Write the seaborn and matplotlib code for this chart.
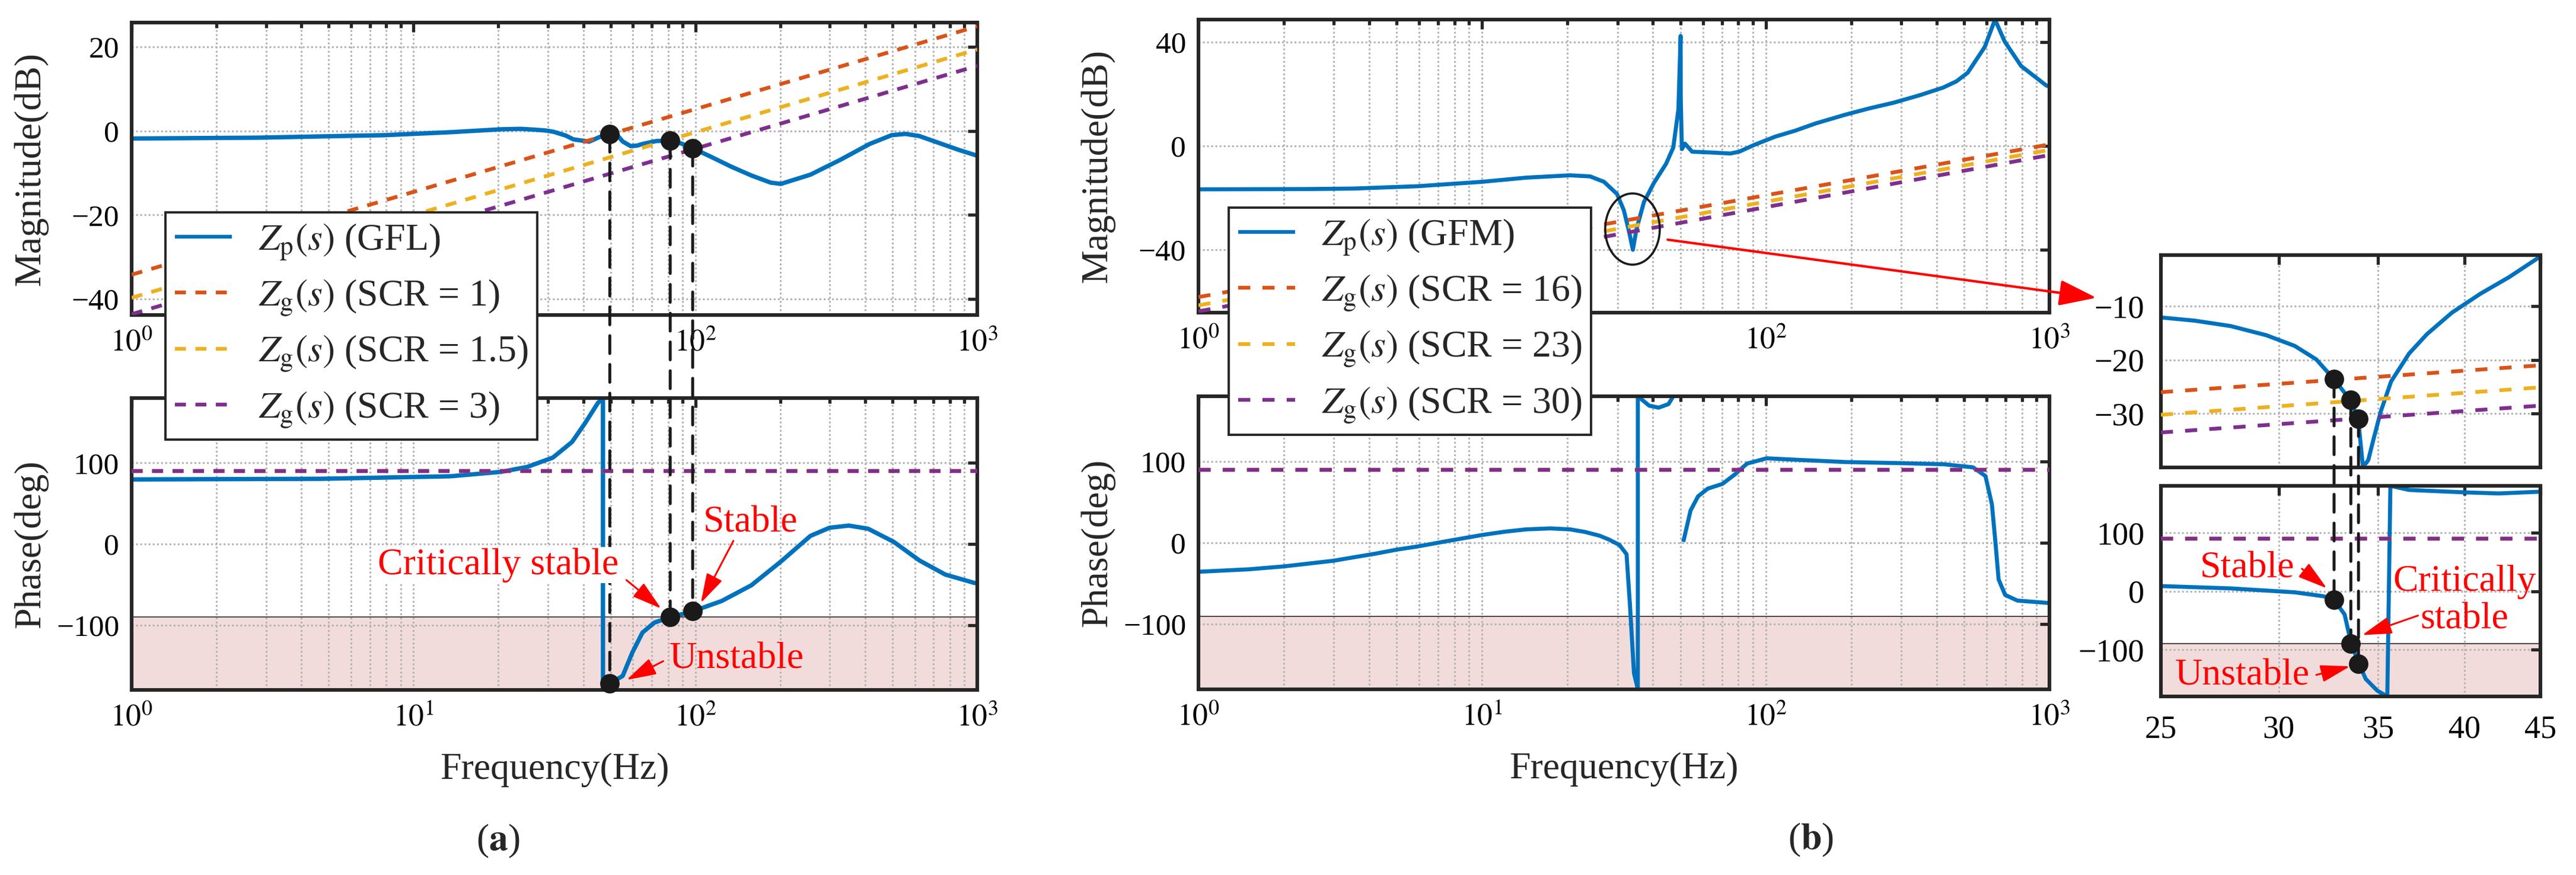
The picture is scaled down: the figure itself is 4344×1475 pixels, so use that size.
import numpy as np
import pandas as pd
import matplotlib
matplotlib.use("Agg")
import matplotlib.pyplot as plt
import seaborn as sns
from matplotlib.patches import ConnectionPatch, Ellipse
from matplotlib.ticker import NullLocator

# ------------------------------------------------------------------ data
# (a) GFL : Zp magnitude
a_mag_freq = [1, 2.8, 7.9, 13.5, 20.5, 24.0, 27.0, 29.5, 31.4, 34.7, 36.9, 42.0, 45.5,
              48.0, 49.7, 51.5, 53.0, 55.2, 58.9, 62.0, 64.9, 72.6, 81.4, 86.0, 90.0,
              97.8, 114, 134, 158, 185, 201, 256, 326, 415, 497, 556, 622, 731, 859, 1000]
a_mag_db = [-1.8, -1.6, -1.0, -0.3, 0.4, 0.5, 0.3, 0.1, -0.2, -1.1, -2.0, -2.55, -1.5,
            -1.0, -0.75, -0.6, -1.1, -2.5, -3.6, -3.5, -3.1, -2.4, -2.3, -2.6, -3.1,
            -4.1, -6.2, -8.5, -10.6, -12.3, -12.6, -10.4, -6.9, -3.1, -1.0, -0.7, -1.2,
            -2.85, -4.5, -5.9]
# (a) GFL : Zp phase
a_ph_freq = [1, 4.7, 13.5, 20.5, 25.3, 31.2, 36.5, 40.6, 45.1, 47.0, 47.0, 49.7, 55.2,
             59.8, 64.9, 71.5, 81.4, 98.0, 124, 158, 201, 256, 299, 350, 410, 505, 624,
             770, 975, 1000]
a_ph_deg = [79.6, 80.4, 83.5, 89.0, 95.0, 106.5, 125.8, 149.0, 174.0, 180.0, -180.0,
            -172.0, -162.8, -133.6, -109.3, -97.0, -90.3, -83.0, -70.3, -50.9, -21.7,
            10.0, 20.0, 22.7, 18.8, 2.7, -20.4, -37.7, -48.0, -48.5]
# (a) grid impedances Zg (SCR = 1, 1.5, 3), end points at 1 Hz and 1 kHz
a_zg_freq = [1, 1000]
a_zg_scr1 = [-34.2, 24.9]
a_zg_scr15 = [-39.7, 19.4]
a_zg_scr3 = [-43.6, 15.5]
zg_phase = [90, 90]
# (a) intersection points
a_cross_freq = [49.7, 81.4, 97.8]
a_cross_mag = [-0.8, -2.3, -4.1]
a_cross_phase = [-172.0, -90.3, -83.0]

# (b) GFM : Zp magnitude
b_mag_freq = [1, 2.37, 3.53, 5.93, 10, 14.3, 20.4, 24.0, 26.9, 29.9, 31.6, 33.0, 34.0,
              35.0, 37.2, 40.3, 44.5, 47.2, 49.2, 50.1, 50.15, 50.6, 51.9, 55.0, 64.0,
              75.0, 80.6, 91.0, 108, 127, 150, 190, 230, 283, 350, 422, 470, 515, 592,
              643, 695, 795, 975, 1000]
b_mag_db = [-16.8, -16.7, -16.5, -15.6, -13.9, -12.3, -11.4, -11.8, -13.9, -18.6, -24.9,
            -33.3, -40.1, -32.2, -21.7, -14.4, -7.0, -0.7, 14.0, 42.3, 19.0, -1.3, 0.8,
            -2.3, -2.6, -3.0, -2.3, 0.3, 3.5, 5.8, 8.6, 11.9, 14.3, 16.6, 19.5, 22.4,
            24.8, 28.1, 38.1, 48.6, 40.2, 30.7, 23.2, 22.8]
# (b) GFM : Zp phase (two branches)
b_ph1_freq = [1, 1.5, 2.0, 3.0, 3.5, 4.2, 5.0, 5.9, 7.5, 10, 12, 14.3, 17.4, 20.4, 23.0,
              25.9, 28.0, 30.5, 32.3, 33.2, 34.3, 35.4, 35.4, 38.8, 41.9, 45.4, 47.2]
b_ph1_deg = [-35.6, -32.6, -29.0, -22.0, -18.0, -13.4, -8.4, -4.6, 2.0, 9.6, 13.6, 16.5,
             17.7, 16.5, 13.4, 8.8, 4.0, -2.7, -14.0, -76.0, -160.0, -180.0, 180.0,
             168.5, 166.0, 170.4, 180.0]
b_ph2_freq = [51.2, 54.3, 57.7, 62.4, 70.3, 77.7, 85.9, 100.7, 128, 191, 284, 424, 538,
              595, 627, 645, 662, 698, 771, 980, 1000]
b_ph2_deg = [1.2, 39.6, 57.0, 66.5, 72.3, 83.8, 97.3, 103.8, 102.0, 99.2, 98.0, 96.5,
             92.7, 82.0, 47.3, 1.2, -45.0, -64.0, -71.0, -73.8, -74.0]
# (b) grid impedances Zg (SCR = 16, 23, 30)
b_zg_freq = [1, 1000]
b_zg_scr16 = [-58.3, 0.5]
b_zg_scr23 = [-61.5, -1.6]
b_zg_scr30 = [-63.8, -3.6]

# (b) zoomed inset 25-45 Hz
i_mag_freq = [25, 26.35, 27.85, 29.43, 30.76, 31.8, 32.69, 33.51, 33.93, 34.18, 34.35,
              34.47, 34.76, 35.15, 35.71, 36.72, 37.75, 39.24, 41.0, 42.87, 45]
i_mag_db = [-12.1, -12.7, -13.7, -15.4, -17.4, -19.9, -23.6, -27.4, -30.9, -39.7, -39.2,
            -38.6, -34.6, -29.5, -24.0, -18.8, -15.2, -11.2, -7.7, -4.6, -0.75]
i_ph_freq = [25, 27.85, 30.76, 32.16, 32.69, 33.23, 33.57, 33.99, 34.33, 34.95, 35.5,
             35.67, 36.72, 39.9, 42.2, 45]
i_ph_deg = [8.7, 4.7, -2.0, -8.7, -14.7, -40.0, -90.0, -124.7, -150.0, -170.0, -180.0,
            180.0, 173.0, 169.0, 167.0, 170.0]
i_zg_freq = [25, 45]
i_zg_scr16 = [-26.0, -21.0]
i_zg_scr23 = [-30.2, -25.1]
i_zg_scr30 = [-33.5, -28.5]
i_cross_freq = [32.69, 33.55, 33.95]
i_cross_mag = [-23.6, -27.4, -30.9]
i_cross_phase = [-14.7, -90.0, -124.7]

a_labels = [r"$Z_{\mathrm{p}}(s)$ (GFL)", r"$Z_{\mathrm{g}}(s)$ (SCR = 1)",
            r"$Z_{\mathrm{g}}(s)$ (SCR = 1.5)", r"$Z_{\mathrm{g}}(s)$ (SCR = 3)"]
b_labels = [r"$Z_{\mathrm{p}}(s)$ (GFM)", r"$Z_{\mathrm{g}}(s)$ (SCR = 16)",
            r"$Z_{\mathrm{g}}(s)$ (SCR = 23)", r"$Z_{\mathrm{g}}(s)$ (SCR = 30)"]
log_ticks = [1, 10, 100, 1000]
log_labels_full = [r"$10^{0}$", r"$10^{1}$", r"$10^{2}$", r"$10^{3}$"]
log_labels_mag = [r"$10^{0}$", "", r"$10^{2}$", r"$10^{3}$"]   # 10^1 is hidden by the legend
inset_ticks = [25, 30, 35, 40, 45]

# ------------------------------------------------------------------ style
sns.set_theme(style="white")
plt.rcParams["font.family"] = ["Liberation Serif", "DejaVu Serif"]
plt.rcParams["mathtext.fontset"] = "stix"
plt.rcParams["axes.unicode_minus"] = True

BLUE, RED, YEL, PUR = "#0072BD", "#D95319", "#EDB120", "#7E2F8E"
SPINE = "#262626"
GRID = "#b3b3b3"
PINK = "#F2DCDB"
TICK_FS, LAB_FS, LEG_FS, ANN_FS = 37, 46, 46, 46
LW_BLUE_A, LW_BLUE_B, LW_DASH = 5.3, 4.9, 4.6
DOT_S = 480

W, H = 4344, 1475
fig = plt.figure(figsize=(W / 100, H / 100), dpi=100)
fig.patch.set_facecolor("white")


def box(l, t, r, b):
    return [l / W, 1 - b / H, (r - l) / W, (b - t) / H]


ax_am = fig.add_axes(box(222, 38, 1648, 531))
ax_ap = fig.add_axes(box(222, 671, 1648, 1163))
ax_bm = fig.add_axes(box(2021, 33, 3456, 527))
ax_bp = fig.add_axes(box(2021, 668, 3456, 1162))
ax_im = fig.add_axes(box(3644, 430, 4284, 788))
ax_ip = fig.add_axes(box(3644, 819, 4284, 1174))


def style_axes(ax, xpad=17, ypad=15, tfs=TICK_FS):
    ax.set_xscale("log")
    ax.set_axisbelow(True)
    for s in ax.spines.values():
        s.set_linewidth(4.4)
        s.set_color(SPINE)
    ax.tick_params(which="both", direction="in", top=True, right=True,
                   color=SPINE, width=3.8, labelsize=tfs, labelcolor="black")
    ax.tick_params(which="major", length=11.5)
    ax.tick_params(which="minor", length=6.8)
    ax.tick_params(axis="x", pad=xpad)
    ax.tick_params(axis="y", pad=ypad)
    ax.grid(True, which="major", axis="both", linestyle=(0, (1.0, 1.3)),
            color=GRID, lw=2.2)
    ax.grid(True, which="minor", axis="x", linestyle=(0, (1.0, 1.3)),
            color=GRID, lw=2.2)


def line(ax, x, y, color, lw, ls="-", label=None, z=2):
    n0 = len(ax.lines)
    sns.lineplot(x=x, y=y, ax=ax, color=color, linewidth=lw, linestyle=ls, sort=False,
                 estimator=None, label=label, zorder=z)
    for ln in ax.lines[n0:]:
        ln.set_linewidth(lw)
        ln.set_linestyle(ls)
        ln.set_solid_capstyle("butt")
        ln.set_dash_capstyle("butt")


dash_a = (0, (2.9, 2.5))
dash_b = (0, (3.2, 3.2))

# ------------------------------------------------------------------ (a) magnitude
style_axes(ax_am)
line(ax_am, a_mag_freq, a_mag_db, BLUE, LW_BLUE_A, label=a_labels[0])
line(ax_am, a_zg_freq, a_zg_scr1, RED, LW_DASH, dash_a, a_labels[1], 3)
line(ax_am, a_zg_freq, a_zg_scr15, YEL, LW_DASH, dash_a, a_labels[2], 3)
line(ax_am, a_zg_freq, a_zg_scr3, PUR, LW_DASH, dash_a, a_labels[3], 3)
sns.scatterplot(x=a_cross_freq, y=a_cross_mag, ax=ax_am, color="k", s=DOT_S,
                edgecolor="k", zorder=6, clip_on=False)
ax_am.set_xlim(1, 1000)
ax_am.set_ylim(-43.8, 25.8)
ax_am.set_yticks([-40, -20, 0, 20])
ax_am.set_xticks(log_ticks, labels=log_labels_mag)
ax_am.set_ylabel("Magnitude(dB)", fontsize=LAB_FS)
ax_am.yaxis.set_label_coords(-0.099, 0.5)
ax_am.set_xlabel("")
h_a, _ = ax_am.get_legend_handles_labels()
if ax_am.get_legend():
    ax_am.get_legend().remove()

# ------------------------------------------------------------------ (a) phase
style_axes(ax_ap)
ax_ap.axhspan(-180, -90, color=PINK, zorder=0.1, lw=0)
ax_ap.axhline(-90, color="k", lw=1.1, zorder=0.6)
line(ax_ap, a_ph_freq, a_ph_deg, BLUE, LW_BLUE_A)
line(ax_ap, a_zg_freq, zg_phase, RED, LW_DASH, dash_a, None, 3)
line(ax_ap, a_zg_freq, zg_phase, YEL, LW_DASH, dash_a, None, 3)
line(ax_ap, a_zg_freq, zg_phase, PUR, LW_DASH, dash_a, None, 3)
sns.scatterplot(x=a_cross_freq, y=a_cross_phase, ax=ax_ap, color="k", s=DOT_S,
                edgecolor="k", zorder=6, clip_on=False)
ax_ap.set_xlim(1, 1000)
ax_ap.set_ylim(-180, 180)
ax_ap.set_yticks([-100, 0, 100])
ax_ap.set_xticks(log_ticks, labels=log_labels_full)
ax_ap.set_ylabel("Phase(deg)", fontsize=LAB_FS)
ax_ap.yaxis.set_label_coords(-0.099, 0.5)
ax_ap.set_xlabel("Frequency(Hz)", fontsize=LAB_FS)
ax_ap.xaxis.set_label_coords(0.5, -0.215)

arrow_kw = dict(arrowstyle="-|>,head_length=1.1,head_width=0.32", color="red",
                lw=2.2, mutation_scale=28, shrinkA=0, shrinkB=0)
ax_ap.annotate("", xy=(75.6, -79.6), xytext=(56.9, -44.5), arrowprops=arrow_kw, zorder=7)
ax_ap.annotate("", xy=(104.5, -72.8), xytext=(136.4, 3.9), arrowprops=arrow_kw, zorder=7)
ax_ap.annotate("", xy=(57.0, -167.7), xytext=(76.9, -144.5), arrowprops=arrow_kw, zorder=7)
ax_ap.text(157.2, 15.3, "Stable", color="red", fontsize=ANN_FS, ha="center",
           va="baseline", zorder=7)
ax_ap.text(140.3, -153.0, "Unstable", color="red", fontsize=ANN_FS, ha="center",
           va="baseline", zorder=7)

# ------------------------------------------------------------------ (b) magnitude
style_axes(ax_bm)
line(ax_bm, b_mag_freq, b_mag_db, BLUE, LW_BLUE_B, label=b_labels[0])
line(ax_bm, b_zg_freq, b_zg_scr16, RED, LW_DASH, dash_b, b_labels[1], 3)
line(ax_bm, b_zg_freq, b_zg_scr23, YEL, LW_DASH, dash_b, b_labels[2], 3)
line(ax_bm, b_zg_freq, b_zg_scr30, PUR, LW_DASH, dash_b, b_labels[3], 3)
ax_bm.set_xlim(1, 1000)
ax_bm.set_ylim(-64.3, 48.6)
ax_bm.set_yticks([-40, 0, 40])
ax_bm.set_xticks(log_ticks, labels=log_labels_mag)
ax_bm.set_ylabel("Magnitude(dB)", fontsize=LAB_FS)
ax_bm.yaxis.set_label_coords(-0.098, 0.5)
ax_bm.set_xlabel("")
h_b, _ = ax_bm.get_legend_handles_labels()
if ax_bm.get_legend():
    ax_bm.get_legend().remove()

# ------------------------------------------------------------------ (b) phase
style_axes(ax_bp)
ax_bp.axhspan(-180, -90, color=PINK, zorder=0.1, lw=0)
ax_bp.axhline(-90, color="k", lw=1.1, zorder=0.6)
line(ax_bp, b_ph1_freq, b_ph1_deg, BLUE, LW_BLUE_B)
line(ax_bp, b_ph2_freq, b_ph2_deg, BLUE, LW_BLUE_B)
line(ax_bp, b_zg_freq, zg_phase, RED, LW_DASH, dash_b, None, 3)
line(ax_bp, b_zg_freq, zg_phase, YEL, LW_DASH, dash_b, None, 3)
line(ax_bp, b_zg_freq, zg_phase, PUR, LW_DASH, dash_b, None, 3)
ax_bp.set_xlim(1, 1000)
ax_bp.set_ylim(-180, 180)
ax_bp.set_yticks([-100, 0, 100])
ax_bp.set_xticks(log_ticks, labels=log_labels_full)
ax_bp.set_ylabel("Phase(deg)", fontsize=LAB_FS)
ax_bp.yaxis.set_label_coords(-0.098, 0.5)
ax_bp.set_xlabel("Frequency(Hz)", fontsize=LAB_FS)
ax_bp.xaxis.set_label_coords(0.5, -0.215)

# ------------------------------------------------------------------ inset
for ax in (ax_im, ax_ip):
    style_axes(ax, xpad=22, ypad=20, tfs=39)
    ax.set_xlim(25, 45)
ax_im.set_xticks(inset_ticks, labels=[""] * len(inset_ticks))
ax_ip.set_xticks(inset_ticks, labels=[str(t) for t in inset_ticks])
for ax in (ax_im, ax_ip):
    ax.xaxis.set_minor_locator(NullLocator())
line(ax_im, i_mag_freq, i_mag_db, BLUE, LW_BLUE_B)
line(ax_im, i_zg_freq, i_zg_scr16, RED, LW_DASH, dash_b, None, 3)
line(ax_im, i_zg_freq, i_zg_scr23, YEL, LW_DASH, dash_b, None, 3)
line(ax_im, i_zg_freq, i_zg_scr30, PUR, LW_DASH, dash_b, None, 3)
sns.scatterplot(x=i_cross_freq, y=i_cross_mag, ax=ax_im, color="k", s=DOT_S,
                edgecolor="k", zorder=6, clip_on=False)
ax_im.set_ylim(-40, -0.5)
ax_im.set_yticks([-30, -20, -10])
ax_im.set_xlabel("")
ax_im.set_ylabel("")

ax_ip.axhspan(-180, -90, color=PINK, zorder=0.1, lw=0)
ax_ip.axhline(-90, color="k", lw=1.1, zorder=0.6)
line(ax_ip, i_ph_freq, i_ph_deg, BLUE, LW_BLUE_B)
line(ax_ip, i_zg_freq, zg_phase, RED, LW_DASH, dash_b, None, 3)
line(ax_ip, i_zg_freq, zg_phase, YEL, LW_DASH, dash_b, None, 3)
line(ax_ip, i_zg_freq, zg_phase, PUR, LW_DASH, dash_b, None, 3)
sns.scatterplot(x=i_cross_freq, y=i_cross_phase, ax=ax_ip, color="k", s=DOT_S,
                edgecolor="k", zorder=6, clip_on=False)
ax_ip.set_ylim(-180, 180)
ax_ip.set_yticks([-100, 0, 100])
ax_ip.set_xlabel("")
ax_ip.set_ylabel("")

ax_ip.annotate("", xy=(32.33, 4.9), xytext=(31.1, 38.3), arrowprops=arrow_kw, zorder=7)
ax_ip.annotate("", xy=(34.14, -75.1), xytext=(37.23, -41.7), arrowprops=arrow_kw, zorder=7)
ax_ip.annotate("", xy=(33.51, -128.5), xytext=(31.8, -143.2), arrowprops=arrow_kw, zorder=7)
ax_ip.text(28.57, 23.6, "Stable", color="red", fontsize=ANN_FS, ha="center",
           va="baseline", zorder=7)
ax_ip.text(40.0, 0.3, "Critically", color="red", fontsize=ANN_FS, ha="center",
           va="baseline", zorder=7)
ax_ip.text(40.0, -64.0, "stable", color="red", fontsize=ANN_FS, ha="center",
           va="baseline", zorder=7)
ax_ip.text(28.36, -159.8, "Unstable", color="red", fontsize=ANN_FS, ha="center",
           va="baseline", zorder=7)

# ------------------------------------------------------------------ vertical dashed links
vdash = (0, (6.0, 3.7))
for f, m, p in zip(a_cross_freq, a_cross_mag, a_cross_phase):
    fig.add_artist(ConnectionPatch(xyA=(f, m), coordsA="data", axesA=ax_am,
                                   xyB=(f, p), coordsB="data", axesB=ax_ap,
                                   color="k", lw=3.6, linestyle=vdash, zorder=1))
for f, m, p in zip(i_cross_freq, i_cross_mag, i_cross_phase):
    fig.add_artist(ConnectionPatch(xyA=(f, m), coordsA="data", axesA=ax_im,
                                   xyB=(f, p), coordsB="data", axesB=ax_ip,
                                   color="k", lw=3.6, linestyle=vdash, zorder=1))

# "Critically stable" label (a) with white background, above the dashed links
fig.text(19.96, -37.2, "Critically stable", transform=ax_ap.transData, color="red",
         fontsize=ANN_FS, ha="center", va="baseline", zorder=5,
         bbox=dict(facecolor="white", edgecolor="none", pad=1.0))

# ------------------------------------------------------------------ ellipse + red arrow (b)
circle_center = (33.9, -32.1)
cen = ax_bm.transAxes.inverted().transform(ax_bm.transData.transform(circle_center))
ax_bm.add_patch(Ellipse(cen, width=92 / 1435, height=120 / 494, transform=ax_bm.transAxes,
                        fill=False, ec="k", lw=2.6, zorder=6, clip_on=False))
fig.add_artist(ConnectionPatch(xyA=(45.1, -36.2), coordsA="data", axesA=ax_bm,
                               xyB=(-0.170, 0.799), coordsB="axes fraction", axesB=ax_im,
                               color="red", lw=3.0, zorder=6,
                               arrowstyle="-|>,head_length=1.3,head_width=0.45",
                               mutation_scale=30))

# ------------------------------------------------------------------ legends
leg_kw = dict(loc="upper left", bbox_transform=fig.transFigure, frameon=True,
              fancybox=False, edgecolor=SPINE, facecolor="white", framealpha=1,
              fontsize=LEG_FS, handlelength=1.5, handletextpad=0.7, labelspacing=0.42,
              borderpad=0.25, borderaxespad=0)
leg_a = fig.legend(h_a, a_labels, bbox_to_anchor=(279 / W, 1 - 358 / H), **leg_kw)
leg_a.get_frame().set_linewidth(2.8)
leg_b = fig.legend(h_b, b_labels, bbox_to_anchor=(2072 / W, 1 - 350 / H), **leg_kw)
leg_b.get_frame().set_linewidth(2.8)
for leg in (leg_a, leg_b):
    for ln in leg.get_lines():
        ln.set_linewidth(LW_DASH)

# ------------------------------------------------------------------ panel labels
fig.text(840 / W, 1 - 1418 / H, r"($\mathbf{a}$)", ha="center", va="center",
         fontsize=LAB_FS)
fig.text(3054 / W, 1 - 1416 / H, r"($\mathbf{b}$)", ha="center", va="center",
         fontsize=LAB_FS)

fig.savefig("out.png", dpi=100, facecolor="white")
